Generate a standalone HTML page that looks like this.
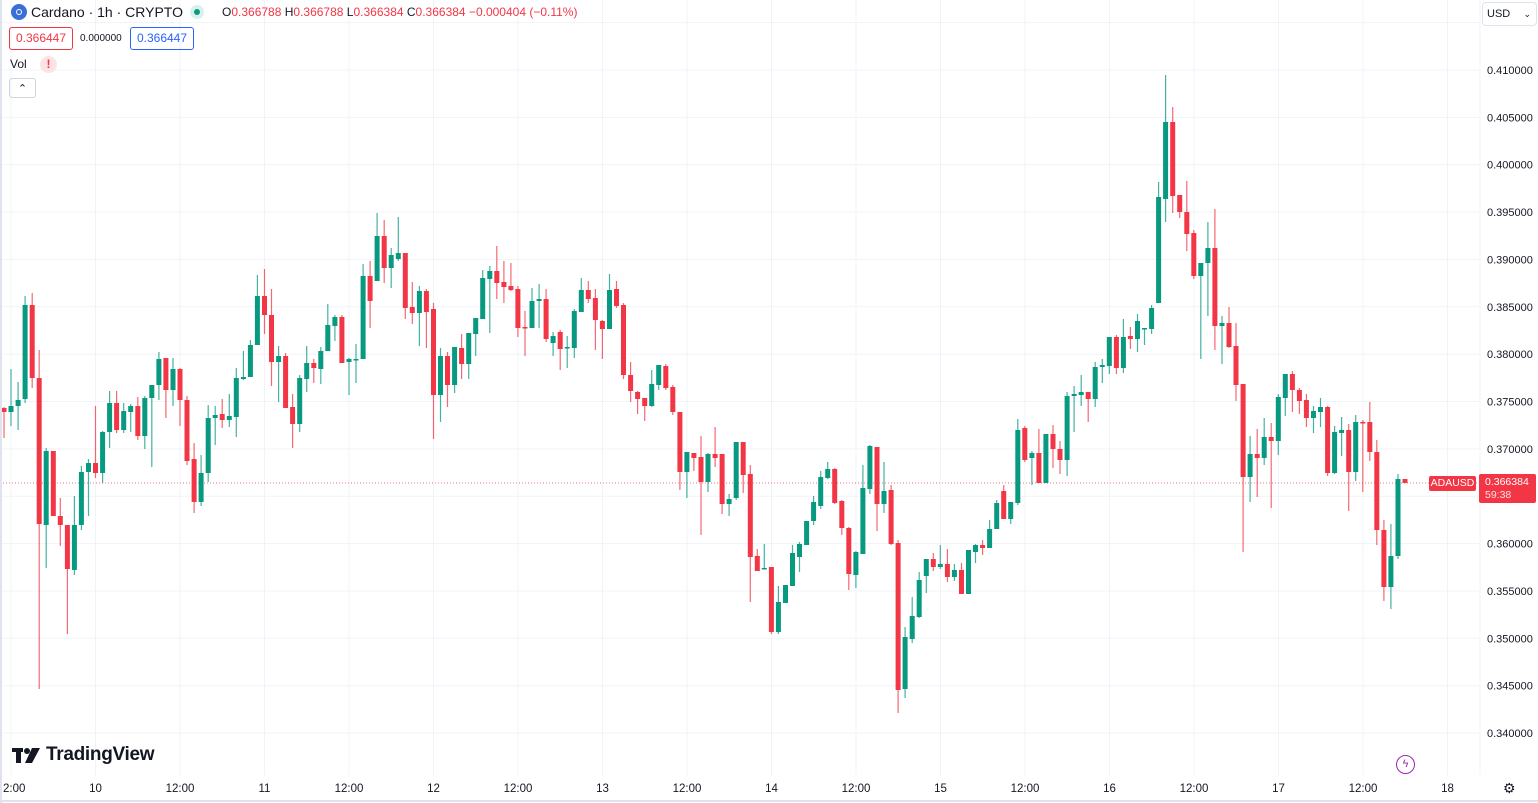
<!DOCTYPE html>
<html><head><meta charset="utf-8"><style>
html,body{margin:0;padding:0;width:1538px;height:803px;overflow:hidden;background:#fff;font-family:"Liberation Sans",sans-serif;}
#c{position:absolute;left:0;top:0}
.t{position:absolute;white-space:nowrap;color:#131722}
</style></head><body>
<svg id="c" width="1538" height="803" xmlns="http://www.w3.org/2000/svg"></svg>
<div class="t" style="left:11px;top:4px;width:16px;height:16px;border-radius:50%;background:#3a6fd8;"></div>
<div class="t" style="left:16px;top:9px;width:6px;height:6px;border-radius:50%;border:1px solid #fff;box-sizing:border-box"></div>
<div class="t" style="left:31px;top:4px;font-size:14px;">Cardano · 1h · CRYPTO</div>
<div class="t" style="left:190px;top:5px;width:14px;height:14px;border-radius:50%;background:#d9f1ec"></div>
<div class="t" style="left:194px;top:9px;width:6px;height:6px;border-radius:50%;background:#089981"></div>
<div class="t" style="top:5px;font-size:12px;color:#f23645;left:222px"><span style="color:#131722">O</span>0.366788 <span style="color:#131722">H</span>0.366788 <span style="color:#131722">L</span>0.366384 <span style="color:#131722">C</span>0.366384 −0.000404 (−0.11%)</div>
<div class="t" style="left:9px;top:27px;width:62px;height:21px;border:1px solid #f23645;border-radius:3px;font-size:12px;color:#f23645;line-height:21px;text-align:center">0.366447</div>
<div class="t" style="left:80px;top:33px;font-size:10px;">0.000000</div>
<div class="t" style="left:130px;top:27px;width:62px;height:21px;border:1px solid #2962ff;border-radius:3px;font-size:12px;color:#2962ff;line-height:21px;text-align:center">0.366447</div>
<div class="t" style="left:10px;top:57px;font-size:12px;">Vol</div>
<div class="t" style="left:40px;top:56px;width:17px;height:17px;border-radius:50%;background:#fde3e5;color:#f23645;font-size:12px;font-weight:bold;text-align:center;line-height:17px">!</div>
<div class="t" style="left:9px;top:78px;width:25px;height:18px;border:1px solid #d1d4dc;border-radius:3px;font-size:11px;text-align:center;line-height:20px">&#8963;</div>
<div class="t" style="left:1482px;top:2px;width:53px;height:22px;border:1px solid #e0e3eb;border-radius:4px;font-size:11px;line-height:22px;"><span style="margin-left:4px">USD</span><span style="position:absolute;right:5px;font-size:9px">&#8964;</span></div>
<div class="t" style="left:1429px;top:476px;width:47px;height:15px;background:#f23645;color:#fff;font-size:10.5px;line-height:15px;text-align:center;border-radius:2px">ADAUSD</div>
<div class="t" style="left:1479px;top:474px;width:57px;height:29px;background:#f23645;color:#fff;font-size:10.5px;line-height:13px;padding-left:6px;box-sizing:border-box;padding-top:2px;border-radius:2px">0.366384<br><span style="opacity:.85">59:38</span></div>
<svg class="t" style="left:12px;top:747px" width="30" height="17"><rect x="0" y="1" width="11" height="4" fill="#131722"/><rect x="4" y="1" width="5" height="15" fill="#131722"/><circle cx="15" cy="4" r="3" fill="#131722"/><polygon points="20,1 28,1 20,16 13,16" fill="#131722"/></svg>
<div class="t" style="left:46px;top:744px;font-size:19px;font-weight:bold;color:#131722;letter-spacing:-0.3px">TradingView</div>
<div class="t" style="left:1396px;top:755px;width:17px;height:17px;border:1.5px solid #9c27b0;border-radius:50%;color:#9c27b0;font-size:11px;text-align:center;line-height:17px">&#991;</div>
<div class="t" style="left:1503px;top:780px;font-size:14px;">&#9881;</div>
<script>
const svg=document.getElementById('c');let h='';
const yP=p=>70+(0.410-p)/0.005*47.36;
for(let k=-1;k<=14;k++){const p=0.410-k*0.005;const y=yP(p);if(y>770)continue;h+=`<line x1="0" x2="1480" y1="${y.toFixed(1)}" y2="${y.toFixed(1)}" stroke="#f0f3fa" stroke-width="1"/>`;
if(k>=0)h+=`<text x="1487" y="${(y+4).toFixed(1)}" font-size="11" fill="#131722" font-family="Liberation Sans">${p.toFixed(6)}</text>`;}
const labs=["2:00","10","12:00","11","12:00","12","12:00","13","12:00","14","12:00","15","12:00","16","12:00","17","12:00","18"];
for(let i=0;i<labs.length;i++){const x=11+i*84.5;h+=`<line x1="${x}" x2="${x}" y1="0" y2="775" stroke="#f0f3fa"/>`;
h+=`<text x="${i==0?3:x}" y="792" font-size="11.5" fill="#131722" text-anchor="${i==0?'start':'middle'}" font-family="Liberation Sans">${labs[i]}</text>`;}
h+=`<line x1="1480" x2="1480" y1="0" y2="775" stroke="#f0f3fa"/>`;
h+=`<line x1="0" x2="1480" y1="483" y2="483" stroke="#f23645" stroke-dasharray="1,2" opacity=".7"/>`;
const d=[
[408,412,407,438,'r'],[412,406,369,426,'g'],[406,400,382,430,'g'],[399,305,296,403,'g'],[305,378,293,388,'r'],[378,524,350,689,'r'],[525,451,448,568,'g'],[451,516,451,516,'r'],[516,525,498,546,'r'],[525,569,525,634,'r'],[570,525,496,575,'g'],[525,472,466,530,'g'],[472,463,459,516,'g'],[463,473,406,478,'r'],[473,432,431,483,'g'],[432,403,391,448,'g'],[403,430,391,433,'r'],[430,411,403,433,'g'],[412,406,404,432,'g'],[406,436,397,440,'r'],[436,398,396,449,'g'],[398,385,385,467,'g'],[385,359,352,400,'g'],[358,390,358,418,'r'],[390,369,358,406,'g'],[369,400,368,426,'r'],[400,461,396,465,'r'],[459,502,443,513,'r'],[502,473,455,506,'g'],[473,418,405,482,'g'],[418,415,406,445,'g'],[414,420,399,428,'r'],[420,416,394,427,'g'],[417,378,368,437,'g'],[379,377,351,380,'g'],[377,345,340,377,'g'],[345,296,275,345,'g'],[296,315,269,334,'r'],[315,362,289,386,'r'],[362,356,346,402,'g'],[356,408,353,408,'r'],[407,424,394,448,'r'],[424,378,375,432,'g'],[379,363,346,392,'g'],[363,368,359,383,'r'],
[369,351,347,384,'g'],[351,325,304,351,'g'],[326,317,315,341,'g'],[317,363,315,363,'r'],[362,359,358,395,'g'],[360,359,344,383,'g'],[359,276,264,359,'g'],[276,301,261,328,'r'],[281,236,213,281,'g'],[236,268,220,283,'r'],[268,255,248,288,'g'],[259,253,217,261,'g'],[253,308,253,319,'r'],[307,313,282,324,'r'],[313,291,286,346,'g'],[291,312,289,348,'r'],[309,395,303,439,'r'],[395,356,348,422,'g'],[356,385,352,407,'r'],[385,347,347,393,'g'],[348,364,334,379,'r'],[364,333,333,379,'g'],[334,318,318,356,'g'],[319,278,270,319,'g'],[279,271,266,333,'g'],[271,283,246,299,'r'],[282,287,261,303,'r'],[286,290,263,291,'r'],[289,328,286,337,'r'],[327,328,311,356,'r'],[328,301,288,328,'g'],[301,299,284,328,'g'],[299,339,289,342,'r'],[343,336,332,356,'g'],[332,349,330,370,'r'],[348,347,336,368,'g'],[348,311,309,358,'g'],[312,290,278,312,'g'],[290,299,281,303,'r'],[298,320,289,350,'r'],[321,329,320,359,'r'],[329,290,274,329,'g'],[289,306,281,308,'r'],[305,375,303,379,'r'],[375,391,362,402,'r'],[392,399,391,414,'r'],[398,406,398,421,'r'],[406,384,370,407,'g'],[385,365,365,390,'g'],[366,388,364,390,'r'],
[387,412,385,415,'r'],[412,472,412,490,'r'],[472,452,452,498,'g'],[453,458,453,471,'r'],[457,482,436,535,'r'],[482,454,453,492,'g'],[454,458,427,467,'r'],[454,504,454,514,'r'],[504,499,494,516,'g'],[498,442,442,500,'g'],[442,475,442,493,'r'],[474,557,465,602,'r'],[556,571,549,571,'r'],[569,568,544,569,'g'],[567,632,567,634,'r'],[632,602,586,634,'g'],[603,585,585,603,'g'],[586,553,545,586,'g'],[557,544,542,572,'g'],[545,521,521,545,'g'],[521,502,496,525,'g'],[506,477,471,509,'g'],[478,469,462,479,'g'],[469,503,468,504,'r'],[501,528,500,535,'r'],[528,574,527,590,'r'],[575,552,551,588,'g'],[554,488,465,554,'g'],[489,446,445,494,'g'],[447,504,447,531,'r'],[504,491,462,513,'g'],[490,544,485,545,'r'],[543,690,540,713,'r'],[689,637,627,698,'g'],[639,616,597,643,'g'],[617,580,572,618,'g'],[576,559,559,593,'g'],[559,567,553,571,'r'],[567,564,545,569,'g'],[564,577,549,582,'r'],[577,570,564,581,'g'],[570,594,563,594,'r'],[594,550,550,594,'g'],[552,545,544,563,'g'],[545,548,540,555,'r'],[548,529,520,548,'g'],[529,503,500,529,'g'],[491,519,485,519,'r'],[519,502,502,524,'g'],[503,430,419,505,'g'],
[428,460,426,462,'r'],[458,453,451,485,'g'],[453,483,429,483,'r'],[483,434,434,483,'g'],[434,449,425,468,'r'],[449,460,441,474,'r'],[460,396,392,476,'g'],[396,394,386,432,'g'],[395,392,375,406,'g'],[392,399,392,422,'r'],[399,367,362,407,'g'],[367,365,359,383,'g'],[366,337,337,374,'g'],[337,368,335,374,'r'],[368,337,319,373,'g'],[336,339,327,349,'r'],[339,321,314,352,'g'],[329,328,328,345,'g'],[329,308,305,334,'g'],[303,197,182,303,'g'],[199,122,75,222,'g'],[122,196,107,213,'r'],[195,212,195,218,'r'],[212,234,181,251,'r'],[233,276,230,279,'r'],[276,263,263,359,'g'],[263,248,222,316,'g'],[248,326,209,350,'r'],[326,323,316,364,'g'],[323,347,307,348,'r'],[346,385,323,401,'r'],[384,477,384,552,'r'],[477,454,436,502,'g'],[454,458,429,497,'r'],[458,437,418,465,'g'],[437,441,423,508,'r'],[441,397,394,455,'g'],[398,374,374,416,'g'],[374,390,371,412,'r'],[390,401,388,414,'r'],[400,418,394,427,'r'],[418,411,406,433,'g'],[412,407,398,427,'g'],[407,473,406,476,'r'],[473,432,426,474,'g'],[433,430,417,456,'g'],[430,472,424,511,'r'],[472,422,415,481,'g'],[422,423,420,492,'r'],[422,452,402,461,'r'],[452,530,440,545,'r'],[530,587,520,601,'r'],[587,556,524,609,'g'],[556,479,474,559,'g'],[479,483,479,483,'r']];
d.forEach((c,i)=>{const x=4+i*(1401/(d.length-1));const col=c[4]=='g'?'#089981':'#f23645';
const t=Math.min(c[0],c[1]),b=Math.max(c[0],c[1]);
h+=`<line x1="${x.toFixed(1)}" x2="${x.toFixed(1)}" y1="${Math.min(c[2],t)}" y2="${Math.max(c[3],b)}" stroke="${col}" stroke-width="1.2" opacity=".75"/>`;
h+=`<rect x="${(x-2.5).toFixed(1)}" y="${t}" width="5" height="${Math.max(b-t,1.5)}" fill="${col}"/>`;});
h+=`<line x1="1" x2="1" y1="0" y2="803" stroke="#dfe3ee" stroke-width="2"/>`;
h+=`<line x1="0" x2="1538" y1="801" y2="801" stroke="#dfe3ee" stroke-width="2"/>`;
svg.innerHTML=h;
</script>
</body></html>
